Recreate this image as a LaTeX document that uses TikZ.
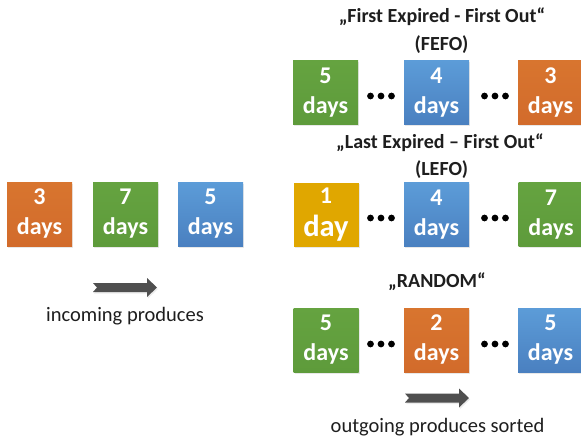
\documentclass[tikz,border=0pt]{standalone}
\usepackage{fontspec}
\setmainfont{Carlito}
\usetikzlibrary{shadows}

\definecolor{boxorange}{HTML}{D26B2B}
\definecolor{boxorangetop}{HTML}{D8752F}
\definecolor{boxgreen}{HTML}{5E9B3B}
\definecolor{boxgreentop}{HTML}{65A340}
\definecolor{boxbluetop}{HTML}{5C9CD8}
\definecolor{boxbluebot}{HTML}{4A80C0}
\definecolor{boxyellow}{HTML}{E0A700}
\definecolor{arrowgray}{HTML}{4F4F4F}
\definecolor{textgray}{HTML}{1E1E1E}

\tikzset{
  x=1pt, y=-1pt,
  daybox/.style={minimum width=65pt, minimum height=64pt, inner sep=0pt,
    text=white, align=center,
    font=\fontsize{24}{30}\selectfont\bfseries,
    drop shadow={opacity=0.18, shadow xshift=1pt, shadow yshift=-1.5pt}},
  orangebox/.style={daybox, top color=boxorangetop, bottom color=boxorange},
  greenbox/.style={daybox, top color=boxgreentop, bottom color=boxgreen},
  bluebox/.style={daybox, top color=boxbluetop, bottom color=boxbluebot},
  yellowbox/.style={daybox, fill=boxyellow},
  heading/.style={font=\fontsize{20}{24}\selectfont\bfseries, text=textgray, inner sep=0pt},
  caption/.style={font=\fontsize{20.5}{24}\selectfont, text=textgray, inner sep=0pt},
  ellipsis/.pic={
    \foreach \dx in {-10.5,0,10.5}
      \fill[black] (\dx,0) circle (3.4pt);
  },
  flowarrow/.pic={
    \fill[arrowgray, drop shadow={opacity=0.15, shadow xshift=1pt, shadow yshift=-1.5pt}]
      (0,-4.5) -- (54,-4.5) -- (54,-9.5) -- (64,0) -- (54,9.5) -- (54,4.5)
      -- (0,4.5) -- (4,0) -- cycle;
  }
}

\begin{document}
\begin{tikzpicture}
\useasboundingbox (0,0) rectangle (581,437);

% incoming products
\node[orangebox] (in1) at (39.5,214) {3\\days};
\node[greenbox]  (in2) at (125.5,214) {7\\days};
\node[bluebox]   (in3) at (210.5,214) {5\\days};
\coordinate (inarrow) at (93,287.5);
\pic at (inarrow) {flowarrow};
\node[caption] (incap) at (125,316) {incoming produces};

% first expired - first out
\node[heading] (fefo1) at (442,17) {„First Expired - First Out“};
\node[heading] (fefo2) at (441.5,45) {(FEFO)};
\node[greenbox]  (f1) at (325.5,92.5) {5\\days};
\node[bluebox]   (f2) at (436.5,92.5) {4\\days};
\node[orangebox] (f3) at (550.5,92.5) {3\\days};
\coordinate (fd1) at (381,96);
\coordinate (fd2) at (495,96);
\pic at (fd1) {ellipsis};
\pic at (fd2) {ellipsis};

% last expired - first out
\node[heading] (lefo1) at (440,143) {„Last Expired – First Out“};
\node[heading] (lefo2) at (441.5,170) {(LEFO)};
\node[yellowbox, font=\fontsize{30.5}{33}\selectfont\bfseries] (l1) at (326,214.5)
  {{\fontsize{24}{30}\selectfont 1}\\day};
\node[bluebox]  (l2) at (436.5,214.5) {4\\days};
\node[greenbox] (l3) at (551,214.5) {7\\days};
\coordinate (ld1) at (381,218);
\coordinate (ld2) at (495,218);
\pic at (ld1) {ellipsis};
\pic at (ld2) {ellipsis};

% random order
\node[heading] (rand) at (437,282) {„RANDOM“};
\node[greenbox]  (r1) at (326,340) {5\\days};
\node[orangebox] (r2) at (436.5,340) {2\\days};
\node[bluebox]   (r3) at (550.5,340) {5\\days};
\coordinate (rd1) at (381,344);
\coordinate (rd2) at (495,344);
\pic at (rd1) {ellipsis};
\pic at (rd2) {ellipsis};
\coordinate (outarrow) at (405,398);
\pic at (outarrow) {flowarrow};
\node[caption] (outcap) at (437.5,427) {outgoing produces sorted};
\end{tikzpicture}
\end{document}
